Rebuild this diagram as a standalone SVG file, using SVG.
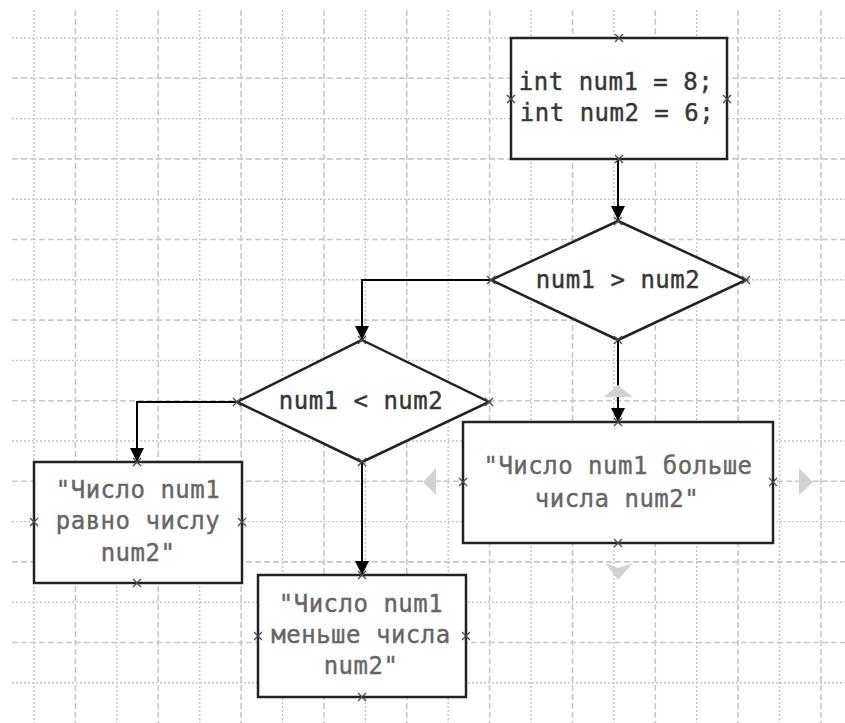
<svg xmlns="http://www.w3.org/2000/svg" xmlns:xlink="http://www.w3.org/1999/xlink" width="845" height="723" viewBox="0 0 845 723">
  <style>
    .minor { stroke: #c4c4c4; stroke-width: 1.4; stroke-dasharray: 2 2; fill: none; }
    .major { stroke: #c8c8c8; stroke-width: 1.6; stroke-dasharray: 6 3; fill: none; }
    .shape { fill: #ffffff; stroke: #222222; stroke-width: 2.5; }
    .conn { fill: none; stroke: #000000; stroke-width: 2; marker-end: url(#arrow); }
    .port { stroke: #4a4a4a; stroke-width: 1.3; fill: none; }
    .code { font-family: "DejaVu Sans Mono", "Liberation Mono", monospace; font-size: 24px; letter-spacing: 0.5px; fill: #363636; stroke: #363636; stroke-width: 0.4; text-anchor: middle; }
    .str { font-family: "DejaVu Sans Mono", "Liberation Mono", monospace; font-size: 24px; letter-spacing: 0.5px; fill: #666666; stroke: #666666; stroke-width: 0.4; text-anchor: middle; }
    .ghost { fill: #d2d2d2; }
  </style>
  <defs>
    <marker id="arrow" markerUnits="userSpaceOnUse" markerWidth="14" markerHeight="14" refX="14" refY="7" orient="auto">
      <path d="M0,0 L14,7 L0,14 z" fill="#000000"/>
    </marker>
    <path id="port" class="port" d="M-4,-4 L4,4 M-4,4 L4,-4"/>
  </defs>

  <rect width="845" height="723" fill="#ffffff"/>

  <!-- background grid -->
  <g id="grid">
    <line class="minor" x1="34" y1="10" x2="34" y2="723"/>
    <line class="major" x1="75.4" y1="10" x2="75.4" y2="723"/>
    <line class="minor" x1="116.8" y1="10" x2="116.8" y2="723"/>
    <line class="major" x1="158.3" y1="10" x2="158.3" y2="723"/>
    <line class="minor" x1="199.7" y1="10" x2="199.7" y2="723"/>
    <line class="major" x1="241.1" y1="10" x2="241.1" y2="723"/>
    <line class="minor" x1="282.5" y1="10" x2="282.5" y2="723"/>
    <line class="major" x1="323.9" y1="10" x2="323.9" y2="723"/>
    <line class="minor" x1="365.4" y1="10" x2="365.4" y2="723"/>
    <line class="major" x1="406.8" y1="10" x2="406.8" y2="723"/>
    <line class="minor" x1="448.2" y1="10" x2="448.2" y2="723"/>
    <line class="major" x1="489.6" y1="10" x2="489.6" y2="723"/>
    <line class="minor" x1="531" y1="10" x2="531" y2="723"/>
    <line class="major" x1="572.5" y1="10" x2="572.5" y2="723"/>
    <line class="minor" x1="613.9" y1="10" x2="613.9" y2="723"/>
    <line class="major" x1="655.3" y1="10" x2="655.3" y2="723"/>
    <line class="minor" x1="696.7" y1="10" x2="696.7" y2="723"/>
    <line class="major" x1="738.1" y1="10" x2="738.1" y2="723"/>
    <line class="minor" x1="779.6" y1="10" x2="779.6" y2="723"/>
    <line class="major" x1="821" y1="10" x2="821" y2="723"/>

    <line class="minor" x1="12" y1="38" x2="845" y2="38"/>
    <line class="major" x1="12" y1="78.3" x2="845" y2="78.3"/>
    <line class="minor" x1="12" y1="118.6" x2="845" y2="118.6"/>
    <line class="major" x1="12" y1="158.9" x2="845" y2="158.9"/>
    <line class="minor" x1="12" y1="199.2" x2="845" y2="199.2"/>
    <line class="major" x1="12" y1="239.5" x2="845" y2="239.5"/>
    <line class="minor" x1="12" y1="279.8" x2="845" y2="279.8"/>
    <line class="major" x1="12" y1="320.1" x2="845" y2="320.1"/>
    <line class="minor" x1="12" y1="360.4" x2="845" y2="360.4"/>
    <line class="major" x1="12" y1="400.7" x2="845" y2="400.7"/>
    <line class="minor" x1="12" y1="441" x2="845" y2="441"/>
    <line class="major" x1="12" y1="481.3" x2="845" y2="481.3"/>
    <line class="minor" x1="12" y1="521.6" x2="845" y2="521.6"/>
    <line class="major" x1="12" y1="561.9" x2="845" y2="561.9"/>
    <line class="minor" x1="12" y1="602.2" x2="845" y2="602.2"/>
    <line class="major" x1="12" y1="642.5" x2="845" y2="642.5"/>
    <line class="minor" x1="12" y1="682.8" x2="845" y2="682.8"/>
  </g>

  <!-- connectors -->
  <g id="connectors">
    <path class="conn" d="M618,159 L618,220"/>
    <path class="conn" d="M491,280 L362,280 L362,340"/>
    <path class="conn" d="M618,340 L618,422"/>
    <path class="conn" d="M237,402 L137,402 L137,462"/>
    <path class="conn" d="M362,462 L362,575"/>
  </g>

  <!-- start: variable declarations -->
  <g id="init">
    <rect class="shape" x="511" y="38" width="216" height="121"/>
    <text class="code" x="616" y="90">int num1 = 8;</text>
    <text class="code" x="617" y="121">int num2 = 6;</text>
    <use xlink:href="#port" x="619" y="38"/>
    <use xlink:href="#port" x="511" y="99"/>
    <use xlink:href="#port" x="727" y="99"/>
    <use xlink:href="#port" x="619" y="159"/>
  </g>

  <!-- decision: num1 > num2 -->
  <g id="cond-greater">
    <polygon class="shape" points="618,221 746,280 618,340 491,280"/>
    <text class="code" x="618" y="288">num1 &gt; num2</text>
    <use xlink:href="#port" x="618" y="221"/>
    <use xlink:href="#port" x="491" y="280"/>
    <use xlink:href="#port" x="746" y="280"/>
    <use xlink:href="#port" x="618" y="340"/>
  </g>

  <!-- decision: num1 < num2 -->
  <g id="cond-less">
    <polygon class="shape" points="362,340 489,402 362,462 237,402"/>
    <text class="code" x="361" y="409">num1 &lt; num2</text>
    <use xlink:href="#port" x="362" y="340"/>
    <use xlink:href="#port" x="237" y="402"/>
    <use xlink:href="#port" x="489" y="402"/>
    <use xlink:href="#port" x="362" y="462"/>
  </g>

  <!-- output: greater -->
  <g id="out-greater">
    <rect class="shape" x="463" y="422" width="310" height="121"/>
    <text class="str" x="618" y="474">"Число num1 больше</text>
    <text class="str" x="617" y="507">числа num2"</text>
    <use xlink:href="#port" x="618" y="422"/>
    <use xlink:href="#port" x="463" y="482"/>
    <use xlink:href="#port" x="773" y="482"/>
    <use xlink:href="#port" x="618" y="543"/>
    <!-- selection handles -->
    <path class="ghost" d="M618,385 L633,397 L604,397 z"/>
    <path class="ghost" d="M605,563 L618,568 L633,563 L618,580 z"/>
    <path class="ghost" d="M423,482 L436,468 L436,495 z"/>
    <path class="ghost" d="M813,482 L799,468 L799,495 z"/>
  </g>

  <!-- output: equal -->
  <g id="out-equal">
    <rect class="shape" x="34" y="462" width="208" height="121"/>
    <text class="str" x="138" y="498">"Число num1</text>
    <text class="str" x="138" y="529">равно числу</text>
    <text class="str" x="138" y="561">num2"</text>
    <use xlink:href="#port" x="137" y="462"/>
    <use xlink:href="#port" x="34" y="522"/>
    <use xlink:href="#port" x="242" y="522"/>
    <use xlink:href="#port" x="137" y="583"/>
  </g>

  <!-- output: less -->
  <g id="out-less">
    <rect class="shape" x="258" y="575" width="208" height="122"/>
    <text class="str" x="361" y="612">"Число num1</text>
    <text class="str" x="361" y="643">меньше числа</text>
    <text class="str" x="361" y="674">num2"</text>
    <use xlink:href="#port" x="362" y="575"/>
    <use xlink:href="#port" x="258" y="636"/>
    <use xlink:href="#port" x="466" y="636"/>
    <use xlink:href="#port" x="362" y="697"/>
  </g>
</svg>
